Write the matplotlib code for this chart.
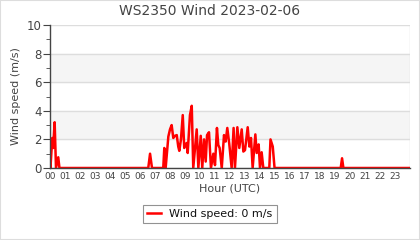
import matplotlib
matplotlib.use("Agg")
import matplotlib.pyplot as plt
from matplotlib.patches import Rectangle

# wind speed samples: hour of day (UTC) and speed (m/s)
hours = [0.0, 0.03, 0.15, 0.21, 0.31, 0.4, 0.55, 0.63,
         6.55, 6.67, 6.8,
         7.55, 7.62, 7.71, 7.89, 8.0, 8.11, 8.22, 8.33, 8.45, 8.55, 8.62,
         8.73, 8.85, 8.95, 9.11, 9.18, 9.33, 9.45, 9.55, 9.78, 9.89,
         10.05, 10.15, 10.27, 10.38, 10.47, 10.6, 10.73, 10.89, 11.0,
         11.13, 11.22, 11.31, 11.45, 11.6, 11.71, 11.82, 11.95, 12.11,
         12.24, 12.33, 12.49, 12.62, 12.78, 12.89, 13.0, 13.18, 13.29,
         13.4, 13.51, 13.69, 13.78, 13.91, 14.0, 14.11, 14.22,
         14.62, 14.7, 14.85, 14.97,
         19.38, 19.47, 19.56, 24.0]
speed = [1.6, 0.0, 2.1, 1.4, 3.2, 0.0, 0.75, 0.0,
         0.0, 1.0, 0.0,
         0.0, 1.4, 0.0, 2.2, 2.7, 3.0, 2.1, 2.25, 2.3, 1.5, 1.2,
         2.0, 3.7, 1.4, 1.75, 1.05, 3.7, 4.35, 0.0, 2.7, 0.0,
         2.25, 0.0, 2.0, 0.45, 2.3, 2.5, 0.0, 1.0, 0.2,
         2.8, 1.6, 1.4, 0.0, 2.3, 1.85, 2.8, 1.7, 0.0,
         2.8, 0.0, 2.85, 1.4, 2.7, 1.15, 1.25, 2.85, 1.5,
         2.1, 0.0, 2.35, 1.05, 1.65, 0.0, 1.1, 0.0,
         0.0, 2.0, 1.5, 0.0,
         0.0, 0.68, 0.0, 0.0]

hour_labels = [f"{h:02d}" for h in range(24)]
title = "WS2350 Wind 2023-02-06"
legend_label = "Wind speed: 0 m/s"

text_col = "#444444"
grid_col = "#dddddd"

fig = plt.figure(figsize=(4.2, 2.4), dpi=100)
ax = fig.add_axes([50 / 420, 1 - 168 / 240, 360 / 420, 143 / 240])

# alternating background bands
for lo in (2, 6):
    ax.axhspan(lo, lo + 2, color="#f5f5f5", zorder=0)

ax.plot(hours, speed, color="red", lw=1.8, label=legend_label, zorder=3)

ax.set_xlim(0, 24)
ax.set_ylim(0, 10)
ax.set_xticks(range(24))
ax.set_xticklabels(hour_labels)
ax.set_xticks(range(25), minor=True)
ax.set_yticks(range(0, 11, 2))
ax.set_yticks(range(0, 11), minor=True)
ax.grid(True, which="minor", axis="x", color=grid_col, lw=1, zorder=1)
ax.grid(True, which="major", axis="y", color=grid_col, lw=1, zorder=1)

ax.tick_params(axis="x", which="both", length=0, labelsize=6.5, colors=text_col, pad=3)
ax.tick_params(axis="y", which="major", length=5, labelsize=8.5, colors=text_col, pad=1)
ax.tick_params(axis="y", which="minor", length=3, color=text_col)

for side in ("top", "right"):
    ax.spines[side].set_visible(False)
for side in ("left", "bottom"):
    ax.spines[side].set_color("#444444")
    ax.spines[side].set_linewidth(1)
    ax.spines[side].set_zorder(4)

fig.text(0.5, 1 - 11 / 240, title, fontsize=10, color=text_col, ha="center", va="center")
ax.set_xlabel("Hour (UTC)", fontsize=8, color=text_col, labelpad=2)
ax.set_ylabel("Wind speed (m/s)", fontsize=8, color=text_col, labelpad=4)

leg = fig.legend(loc="center", bbox_to_anchor=(0.5, 1 - 214 / 240), fontsize=8,
                 frameon=True, fancybox=False, handlelength=1.2, borderpad=0.4)
leg.get_frame().set_edgecolor("#777777")
leg.get_frame().set_linewidth(0.8)
for t in leg.get_texts():
    t.set_color("#111111")

# light border around the whole picture
fig.patches.append(Rectangle((0, 0), 1, 1, transform=fig.transFigure, fill=False,
                             edgecolor="#dddddd", lw=1.5))

fig.savefig("out.png", dpi=100)
